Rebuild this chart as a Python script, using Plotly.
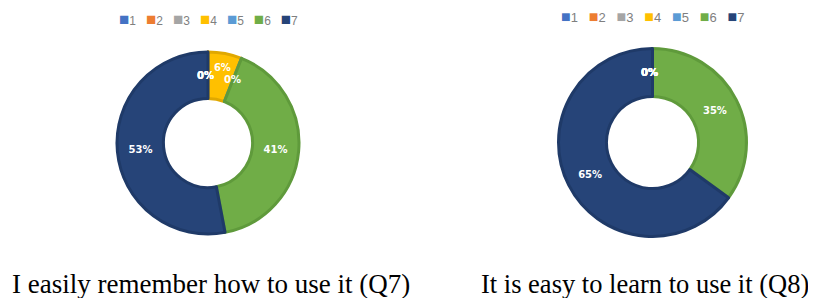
import math
import plotly.graph_objects as go

categories = ["1", "2", "3", "4", "5", "6", "7"]
q7_values = [0, 0, 0, 6, 0, 41, 53]
q8_values = [0, 0, 0, 0, 0, 35, 65]
colors = ["#4472C4", "#ED7D31", "#A5A5A5", "#FFC000", "#5B9BD5", "#70AD47", "#264478"]
edge_colors = ["#3A64AE", "#D06A25", "#8F8F8F", "#E0A800", "#4A86BE", "#5F9A3B", "#1F3A68"]
titles = ["I easily remember how to use it (Q7)", "It is easy to learn to use it (Q8)"]

W, H, OFF = 808, 290, 8  # page body margin offsets the figure by 8px


def px(x):
    return (x - OFF) / W


def py(y):
    return 1 - (y - OFF) / H


HOLE = 0.49
fig = go.Figure()


def add_pie(values, cx, cy, diam, legend_y, legend_font, square_font):
    fig.add_trace(go.Pie(
        labels=categories, values=values, sort=False, direction="clockwise",
        rotation=0, hole=HOLE,
        marker=dict(colors=colors, line=dict(color=edge_colors, width=3)),
        texttemplate="%{percent:.0%}", textposition="inside",
        insidetextorientation="horizontal",
        textfont=dict(family="DejaVu Sans", size=10, color="white", weight="bold"),
        domain=dict(x=[px(cx - diam / 2), px(cx + diam / 2)],
                    y=[py(cy + diam / 2), py(cy - diam / 2)]),
        showlegend=False, hoverinfo="label+percent",
    ))
    # labels for zero-valued slices (plotly hides them), placed at the slice angle
    total = sum(values)
    cum = 0
    r_mid = diam / 2 * (1 + HOLE) / 2
    for v in values:
        if v == 0:
            th = 2 * math.pi * cum / total
            fig.add_annotation(
                x=px(cx + r_mid * math.sin(th) - 3 + 8 * math.sin(th)),
                y=py(cy - r_mid * math.cos(th)),
                xref="paper", yref="paper", text="0%", showarrow=False,
                xanchor="center", yanchor="middle",
                font=dict(family="DejaVu Sans", size=10, color="white", weight="bold"))
        cum += v
    # legend row
    parts = [f"<span style='color:{col};font-size:{square_font}px'>■</span>{c}"
             for c, col in zip(categories, colors)]
    fig.add_annotation(x=px(cx), y=py(legend_y), xref="paper", yref="paper",
                       text="&nbsp;&nbsp;&nbsp;".join(parts), showarrow=False,
                       xanchor="center", yanchor="middle",
                       font=dict(family="Liberation Sans", size=legend_font, color="#7F7F7F"))


add_pie(q7_values, 208, 143, 182, 20, 12, 17)
add_pie(q8_values, 652.5, 142.5, 188, 17, 13, 16)

for xc, t, fs in zip([211, 645], titles, [27, 26.5]):
    fig.add_annotation(x=px(xc), y=py(284), xref="paper", yref="paper", text=t,
                       showarrow=False, xanchor="center", yanchor="middle",
                       font=dict(family="Liberation Serif", size=fs, color="black"))

fig.update_layout(width=W, height=H, margin=dict(l=0, r=0, t=0, b=0),
                  paper_bgcolor="white", plot_bgcolor="white")
fig.write_html("out.html")
